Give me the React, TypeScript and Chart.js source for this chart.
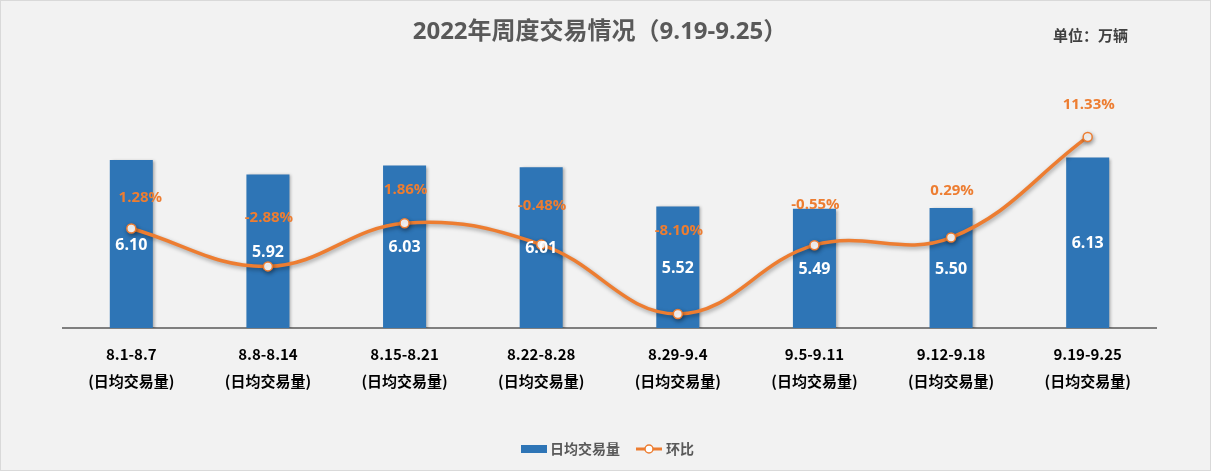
import React, { useEffect, useRef } from "react";
import { Chart, registerables } from "chart.js";

Chart.register(...registerables);

const categories = ["8.1-8.7", "8.8-8.14", "8.15-8.21", "8.22-8.28", "8.29-9.4", "9.5-9.11", "9.12-9.18", "9.19-9.25"];
const subLabel = "(日均交易量)";
const volumes = [6.10, 5.92, 6.03, 6.01, 5.52, 5.49, 5.50, 6.13];
const changes = [1.28, -2.88, 1.86, -0.48, -8.10, -0.55, 0.29, 11.33];
const changeLabelLift = [31, 49, 33, 39, 83, 40, 47, 32];

const titleText = "2022年周度交易情况（9.19-9.25）";
const unitText = "单位：万辆";
const barName = "日均交易量";
const lineName = "环比";

const BLUE = "#2E75B6";
const ORANGE = "#ED7D31";
const FONT = '"Open Sans", "Noto Sans CJK SC", sans-serif';
const CJK = '"Noto Sans CJK SC", sans-serif';

const decorPlugin = {
  id: "decor",
  beforeDraw(chart: any) {
    const { ctx, width, height } = chart;
    ctx.save();
    ctx.fillStyle = "#F2F2F2";
    ctx.fillRect(0, 0, width, height);
    ctx.strokeStyle = "#D9D9D9";
    ctx.lineWidth = 1;
    ctx.strokeRect(0.5, 0.5, width - 1, height - 1);
    ctx.restore();
  },
  beforeDatasetDraw(chart: any, args: any) {
    const { ctx } = chart;
    ctx.save();
    if (args.meta.type === "line") {
      ctx.shadowColor = "rgba(0,0,0,0.35)";
      ctx.shadowBlur = 4;
      ctx.shadowOffsetX = 1;
      ctx.shadowOffsetY = 2;
    } else {
      ctx.shadowColor = "rgba(0,0,0,0.3)";
      ctx.shadowBlur = 3;
      ctx.shadowOffsetX = 2;
      ctx.shadowOffsetY = 1;
    }
  },
  afterDatasetDraw(chart: any) {
    chart.ctx.restore();
  },
  afterDraw(chart: any) {
    const { ctx, chartArea } = chart;
    ctx.save();
    // title
    ctx.fillStyle = "#595959";
    ctx.font = `bold 24px ${FONT}`;
    ctx.textAlign = "center";
    ctx.textBaseline = "middle";
    ctx.fillText(titleText, 600, 32);
    // unit
    ctx.fillStyle = "#404040";
    ctx.font = `bold 15px ${FONT}`;
    ctx.textAlign = "left";
    ctx.fillText(unitText, 1053, 37);

    // bar labels
    const barMeta = chart.getDatasetMeta(0);
    ctx.fillStyle = "#FFFFFF";
    ctx.font = `bold 16px ${FONT}`;
    ctx.textAlign = "center";
    barMeta.data.forEach((el: any, i: number) => {
      const base = Math.min(el.base, chartArea.bottom);
      const y = (el.y + base) / 2 + 1;
      ctx.fillText(volumes[i].toFixed(2), el.x, y);
    });
    // line labels
    const lineMeta = chart.getDatasetMeta(1);
    ctx.fillStyle = ORANGE;
    ctx.font = `bold 15px ${FONT}`;
    lineMeta.data.forEach((el: any, i: number) => {
      ctx.fillText(changes[i].toFixed(2) + "%", el.x + (i === 0 ? 9 : 1), el.y - changeLabelLift[i]);
    });

    // legend
    const ly = 449;
    ctx.fillStyle = BLUE;
    ctx.fillRect(521, ly - 4, 26, 8);
    ctx.fillStyle = "#595959";
    ctx.font = `bold 14px ${CJK}`;
    ctx.textAlign = "left";
    ctx.fillText(barName, 550, ly);
    ctx.strokeStyle = ORANGE;
    ctx.lineWidth = 3;
    ctx.beginPath();
    ctx.moveTo(636, ly);
    ctx.lineTo(662, ly);
    ctx.stroke();
    ctx.beginPath();
    ctx.arc(649, ly, 4, 0, Math.PI * 2);
    ctx.fillStyle = "#FFFFFF";
    ctx.fill();
    ctx.lineWidth = 1.5;
    ctx.stroke();
    ctx.fillStyle = "#595959";
    ctx.fillText(lineName, 666, ly);
    ctx.restore();
  },
};

export default function App() {
  const ref = useRef<HTMLCanvasElement | null>(null);
  useEffect(() => {
    document.body.style.margin = "0";
    const canvas = ref.current;
    if (!canvas) return;
    const chart = new Chart(canvas, {
      type: "bar",
      data: {
        labels: categories.map((c) => [c, subLabel]),
        datasets: [
          {
            type: "bar",
            label: barName,
            data: volumes,
            backgroundColor: BLUE,
            yAxisID: "y",
            categoryPercentage: 1,
            barPercentage: 0.315,
            order: 2,
          },
          {
            type: "line",
            label: lineName,
            data: changes,
            borderColor: ORANGE,
            borderWidth: 3.5,
            tension: 0.4,
            pointRadius: 4.5,
            pointBorderWidth: 1.5,
            pointBackgroundColor: "#FFFFFF",
            pointBorderColor: ORANGE,
            yAxisID: "y1",
            order: 1,
          } as any,
        ],
      },
      options: {
        animation: false,
        responsive: false,
        devicePixelRatio: 1,
        layout: { padding: { top: 88, left: 63, right: 55, bottom: 43 } },
        plugins: {
          legend: { display: false },
          title: { display: false },
          tooltip: { enabled: false },
        },
        scales: {
          x: {
            grid: { display: false, drawTicks: false },
            border: { display: true, color: "#7F7F7F", width: 2 },
            ticks: {
              color: "#000000",
              font: { family: CJK, size: 15, weight: "bold", lineHeight: 27 / 15 },
              padding: 12.5,
              maxRotation: 0,
              autoSkip: false,
            },
            afterFit: (scale: any) => {
              scale.height = 100;
            },
          },
          y: { display: false, min: 4, max: 7 },
          y1: { display: false, min: -9.64, max: 16.7 },
        },
      },
      plugins: [decorPlugin],
    });
    return () => chart.destroy();
  }, []);
  return (
    <div style={{ width: 1211, height: 471 }}>
      <canvas ref={ref} width={1211} height={471} style={{ display: "block", width: 1211, height: 471 }} />
    </div>
  );
}
